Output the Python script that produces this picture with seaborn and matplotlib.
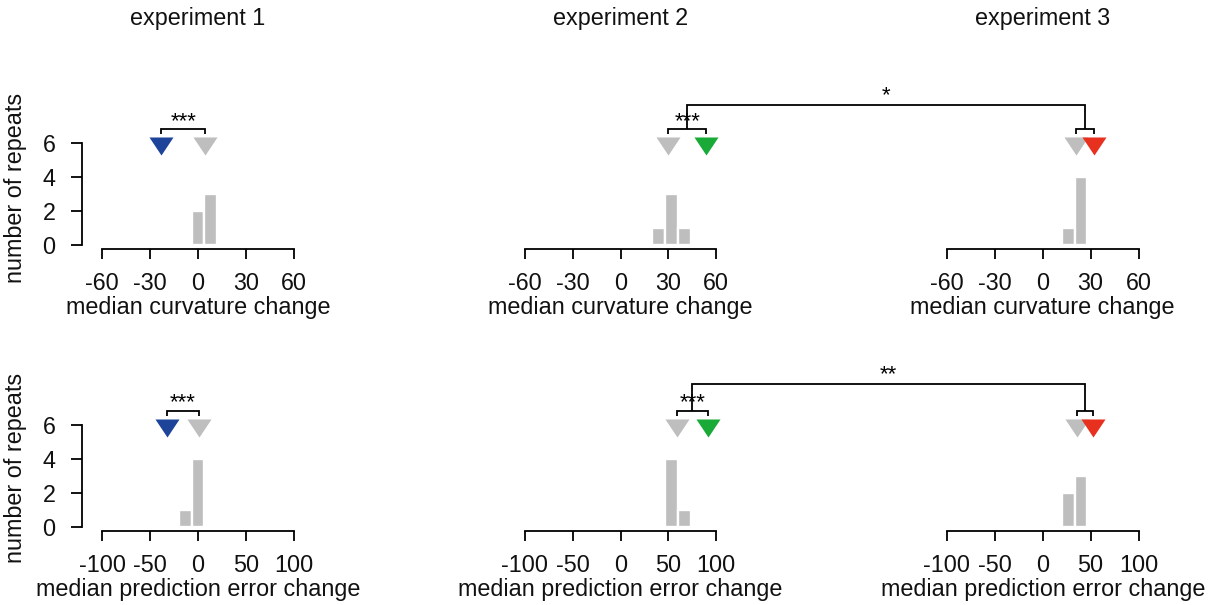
import numpy as np
import pandas as pd
import matplotlib
matplotlib.use("Agg")
import matplotlib.pyplot as plt
from matplotlib.lines import Line2D
import seaborn as sns

# ---- data -------------------------------------------------------------
experiments = ["experiment 1", "experiment 2", "experiment 3"]

curv_range = (-60, 60)
pred_range = (-100, 100)
n_bins = 15

curv_ticks = [-60, -30, 0, 30, 60]
pred_ticks = [-100, -50, 0, 50, 100]
count_ticks = [0, 2, 4, 6]

# histogram bin centres and number of repeats falling in each bin
curv_centers = [[0, 8], [24, 32, 40], [16, 24]]
curv_counts = [[2, 3], [1, 3, 1], [1, 4]]
pred_centers = [[-13.33, 0], [53.33, 66.67], [26.67, 40]]
pred_counts = [[1, 4], [4, 1], [2, 3]]

# medians of the repeats (gray) and of the manipulated condition (colour)
curv_baseline = [4.5, 30, 21]
curv_condition = [-23, 54, 32]
pred_baseline = [1.5, 58.7, 35.4]
pred_condition = [-32.5, 92, 52]

within_stars = ["***", "***", ""]
across_stars = ["*", "**"]  # experiment 2 vs experiment 3, per row

condition_colors = ["#1E449A", "#19AA38", "#E8301F"]
GRAY = "#BEBEBE"

# ---- style ------------------------------------------------------------
sns.set_theme(style="ticks")
plt.rcParams["font.family"] = ["Liberation Sans", "DejaVu Sans"]
FS = 16.8
LW = 1.3

W, H = 1220, 605
fig = plt.figure(figsize=(W / 100, H / 100), dpi=100)

col_px = [(102.3, 293.5), (525, 716), (947, 1138.5)]
row_px = [(143, 245), (424.7, 527)]


def rect(x0, x1, ytop, ybot):
    return [x0 / W, 1 - ybot / H, (x1 - x0) / W, (ybot - ytop) / H]


TRI = [(-1, 0.75), (1, 0.75), (0, -0.75)]
TRI_Y = 5.8

rows = [
    dict(rng=curv_range, ticks=curv_ticks, centers=curv_centers, counts=curv_counts,
         base=curv_baseline, cond=curv_condition, label="median curvature change",
         big_y=8.25, star=across_stars[0]),
    dict(rng=pred_range, ticks=pred_ticks, centers=pred_centers, counts=pred_counts,
         base=pred_baseline, cond=pred_condition, label="median prediction error change",
         big_y=8.37, star=across_stars[1]),
]


def to_fig(ax, x, y):
    return fig.transFigure.inverted().transform(ax.transData.transform((x, y)))


def fig_line(points):
    xs, ys = zip(*points)
    fig.add_artist(Line2D(xs, ys, color="black", lw=LW, solid_capstyle="butt",
                          solid_joinstyle="miter"))


for r, row in enumerate(rows):
    lo, hi = row["rng"]
    mids = []
    axes = []
    for c in range(3):
        ax = fig.add_axes(rect(*col_px[c], *row_px[r]))
        axes.append(ax)
        values = np.repeat(row["centers"][c], row["counts"][c])
        sns.histplot(x=values, binwidth=(hi - lo) / n_bins, binrange=(lo, hi), ax=ax,
                     color=GRAY, edgecolor="white", linewidth=1.7, alpha=1)
        ax.set_xlim(lo, hi)
        ax.set_ylim(0, 6)
        ax.set_xlabel("")
        ax.set_ylabel("")
        ax.set_xticks(row["ticks"])
        ax.set_xticklabels([str(t) for t in row["ticks"]])
        ax.spines["top"].set_visible(False)
        ax.spines["right"].set_visible(False)
        ax.spines["bottom"].set_position(("outward", 2.8))
        ax.spines["bottom"].set_linewidth(LW)
        ax.spines["bottom"].set_color("black")
        ax.tick_params(axis="x", length=7.4, width=LW, color="black", pad=9,
                       labelcolor="#111111", labelsize=FS)
        if c == 0:
            ax.set_yticks(count_ticks)
            ax.set_yticklabels([str(t) for t in count_ticks])
            ax.spines["left"].set_position(("outward", 14.6))
            ax.spines["left"].set_bounds(0, 6)
            ax.spines["left"].set_linewidth(LW)
            ax.spines["left"].set_color("black")
            ax.tick_params(axis="y", length=7.6, width=LW, color="black", pad=11.5,
                           labelcolor="#111111", labelsize=FS)
        else:
            ax.spines["left"].set_visible(False)
            ax.set_yticks([])
        ax.set_facecolor("none")

        # median markers
        ax.plot([row["base"][c]], [TRI_Y], ls="none", marker=TRI, ms=17.3,
                color=GRAY, mew=0, clip_on=False)
        ax.plot([row["cond"][c]], [TRI_Y], ls="none", marker=TRI, ms=17.3,
                color=condition_colors[c], mew=0, clip_on=False)

        # within-experiment bracket
        xa, xb = sorted([row["base"][c], row["cond"][c]])
        p = [to_fig(ax, xa, 6.52), to_fig(ax, xa, 6.8),
             to_fig(ax, xb, 6.8), to_fig(ax, xb, 6.52)]
        fig_line(p)
        xm = (xa + xb) / 2
        mids.append(xm)
        if within_stars[c]:
            ax.text(xm, 6.95, within_stars[c], ha="center", va="baseline",
                    fontsize=16, color="black", clip_on=False)

        # x label
        cx = (col_px[c][0] + col_px[c][1]) / 2
        ybase = row_px[r][1] + 4 + 65
        fig.text(cx / W, 1 - ybase / H, row["label"], ha="center", va="baseline",
                 fontsize=FS, color="#111111")

    # bracket joining experiment 2 and experiment 3
    a2, a3 = axes[1], axes[2]
    p1 = to_fig(a2, mids[1], 6.8)
    p2 = to_fig(a2, mids[1], row["big_y"])
    p4 = to_fig(a3, mids[2], 6.8)
    p3 = (p4[0], p2[1])
    fig_line([p1, p2, p3, p4])
    sx = (p2[0] + p3[0]) / 2
    sy = to_fig(a2, 0, row["big_y"] + 0.22)[1]
    fig.text(sx, sy, row["star"], ha="center", va="baseline", fontsize=16,
             color="black")

    # y label
    ymid = 188 if r == 0 else 468
    fig.text(16 / W, 1 - ymid / H, "number of repeats", rotation=90,
             ha="center", va="center", fontsize=FS, color="#111111")

# column titles
for c in range(3):
    cx = (col_px[c][0] + col_px[c][1]) / 2
    fig.text(cx / W, 1 - 25 / H, experiments[c], ha="center", va="baseline",
             fontsize=FS, color="#111111")

fig.savefig("out.png", dpi=100, facecolor="white")
